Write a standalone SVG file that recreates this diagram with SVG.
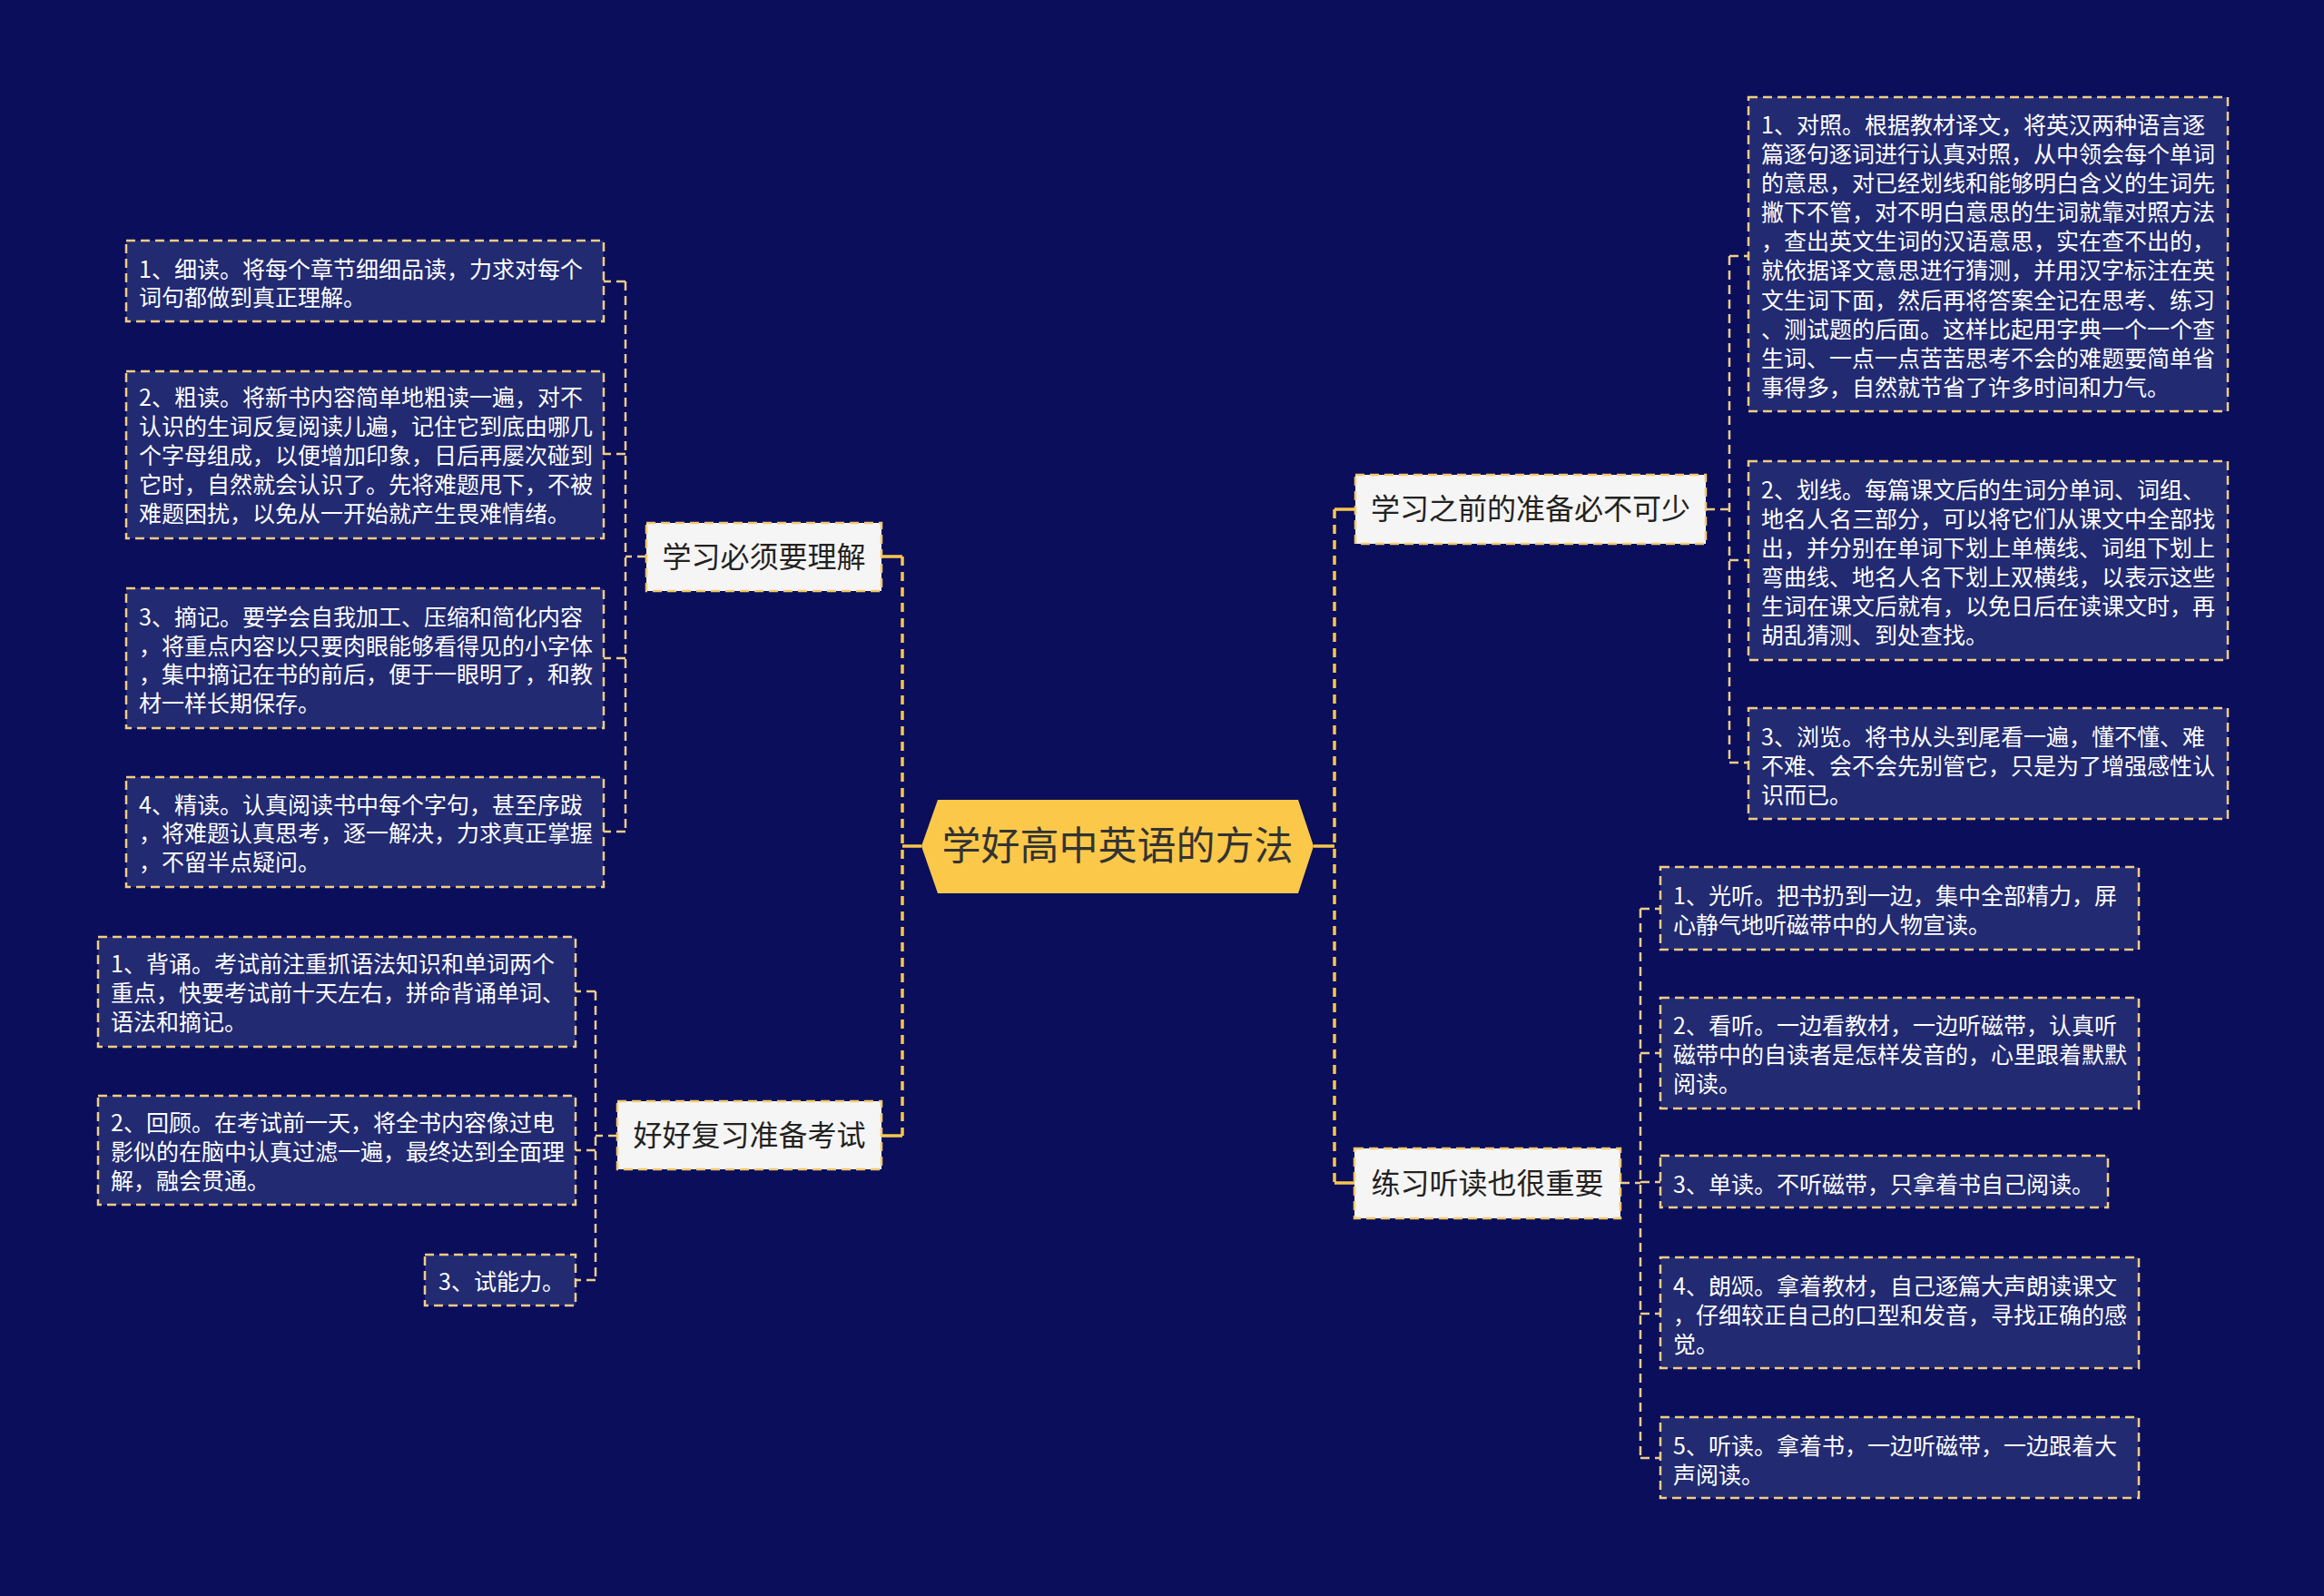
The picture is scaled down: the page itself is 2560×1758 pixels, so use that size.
<svg xmlns="http://www.w3.org/2000/svg" width="2560" height="1758" viewBox="0 0 2560 1758">
<style>
.bg{fill:#0a0e5b}
.leaf rect{fill:#222a72;stroke:#f2cd82;stroke-width:2.5;stroke-dasharray:10 6}
.leaf text{fill:#ffffff;font-family:"Noto Sans CJK SC","Noto Sans",sans-serif;font-size:25px}
.branch rect{fill:#f5f5f5;stroke:#f2c96e;stroke-width:2.5;stroke-dasharray:10 6}
.branch text{fill:#222222;font-family:"Noto Sans CJK SC","Noto Sans",sans-serif;font-size:32px;text-anchor:middle}
.main{fill:none;stroke:#f7c64d;stroke-width:3.5}
.maind{fill:none;stroke:#f7c64d;stroke-width:3.5;stroke-dasharray:10 7}
.sub{fill:none;stroke:#f0cd86;stroke-width:2.5;stroke-dasharray:10 6}
</style>
<rect class="bg" x="0" y="0" width="2560" height="1758"/>
<g id="connectors">
  <path class="main" d="M1015 932 H994"/>
  <path class="maind" d="M994 613 V1251"/>
  <path class="main" d="M994 613 H971 M994 1251 H971"/>
  <path class="main" d="M1447 932 H1470"/>
  <path class="maind" d="M1470 561 V1303"/>
  <path class="main" d="M1470 561 H1493 M1470 1303 H1492"/>
  <path class="sub" d="M712 613 H689 M689 310 V916 M689 310 H665 M689 500 H665 M689 725 H665 M689 916 H665"/>
  <path class="sub" d="M680 1251 H656 M656 1092 V1410 M656 1092 H634 M656 1267 H634 M656 1410 H634"/>
  <path class="sub" d="M1879 561 H1905 M1905 282 V840 M1905 282 H1926 M1905 617 H1926 M1905 840 H1926"/>
  <path class="sub" d="M1785 1303 H1807 M1807 1001 V1606 M1807 1001 H1829 M1807 1160 H1829 M1807 1302 H1829 M1807 1447 H1829 M1807 1606 H1829"/>
</g>
<g id="center">
  <polygon points="1015,932 1033,881 1430,881 1447,932 1430,984 1033,984" fill="#fcc84a"/>
  <text x="1231" y="947" fill="#333333" font-family="Noto Sans CJK SC, Noto Sans, sans-serif" font-size="43" text-anchor="middle">学好高中英语的方法</text>
</g>
<g id="branch1" class="branch">
  <rect x="712" y="576" width="259" height="75"/>
  <text x="841.5" y="625">学习必须要理解</text>
</g>
<g id="branch2" class="branch">
  <rect x="680" y="1213" width="291" height="75"/>
  <text x="825.5" y="1262">好好复习准备考试</text>
</g>
<g id="branch3" class="branch">
  <rect x="1493" y="523" width="386" height="76"/>
  <text x="1686" y="572">学习之前的准备必不可少</text>
</g>
<g id="branch4" class="branch">
  <rect x="1492" y="1265" width="293" height="77"/>
  <text x="1638.5" y="1315">练习听读也很重要</text>
</g>
<g id="leaf-1-1" class="leaf">
  <rect x="139" y="265" width="526" height="89"/>
  <text x="153"><tspan x="153" y="306">1、细读。将每个章节细细品读，力求对每个</tspan><tspan x="153" y="337">词句都做到真正理解。</tspan></text>
</g>
<g id="leaf-1-2" class="leaf">
  <rect x="139" y="409" width="526" height="184"/>
  <text x="153"><tspan x="153" y="447">2、粗读。将新书内容简单地粗读一遍，对不</tspan><tspan x="153" y="479">认识的生词反复阅读儿遍，记住它到底由哪几</tspan><tspan x="153" y="511">个字母组成，以便增加印象，日后再屡次碰到</tspan><tspan x="153" y="543">它时，自然就会认识了。先将难题甩下，不被</tspan><tspan x="153" y="575">难题困扰，以免从一开始就产生畏难情绪。</tspan></text>
</g>
<g id="leaf-1-3" class="leaf">
  <rect x="139" y="648" width="526" height="154"/>
  <text x="153"><tspan x="153" y="689">3、摘记。要学会自我加工、压缩和简化内容</tspan><tspan x="153" y="721">，将重点内容以只要肉眼能够看得见的小字体</tspan><tspan x="153" y="752">，集中摘记在书的前后，便于一眼明了，和教</tspan><tspan x="153" y="784">材一样长期保存。</tspan></text>
</g>
<g id="leaf-1-4" class="leaf">
  <rect x="139" y="856" width="526" height="121"/>
  <text x="153"><tspan x="153" y="896">4、精读。认真阅读书中每个字句，甚至序跋</tspan><tspan x="153" y="927">，将难题认真思考，逐一解决，力求真正掌握</tspan><tspan x="153" y="959">，不留半点疑问。</tspan></text>
</g>
<g id="leaf-2-1" class="leaf">
  <rect x="108" y="1032" width="526" height="121"/>
  <text x="122"><tspan x="122" y="1071">1、背诵。考试前注重抓语法知识和单词两个</tspan><tspan x="122" y="1103">重点，快要考试前十天左右，拼命背诵单词、</tspan><tspan x="122" y="1135">语法和摘记。</tspan></text>
</g>
<g id="leaf-2-2" class="leaf">
  <rect x="108" y="1207" width="526" height="120"/>
  <text x="122"><tspan x="122" y="1246">2、回顾。在考试前一天，将全书内容像过电</tspan><tspan x="122" y="1278">影似的在脑中认真过滤一遍，最终达到全面理</tspan><tspan x="122" y="1310">解，融会贯通。</tspan></text>
</g>
<g id="leaf-2-3" class="leaf">
  <rect x="468" y="1382" width="166" height="56"/>
  <text x="483" y="1421">3、试能力。</text>
</g>
<g id="leaf-3-1" class="leaf">
  <rect x="1926" y="107" width="528" height="346"/>
  <text x="1940"><tspan x="1940" y="147">1、对照。根据教材译文，将英汉两种语言逐</tspan><tspan x="1940" y="179">篇逐句逐词进行认真对照，从中领会每个单词</tspan><tspan x="1940" y="211">的意思，对已经划线和能够明白含义的生词先</tspan><tspan x="1940" y="243">撇下不管，对不明白意思的生词就靠对照方法</tspan><tspan x="1940" y="275">，查出英文生词的汉语意思，实在查不出的，</tspan><tspan x="1940" y="307">就依据译文意思进行猜测，并用汉字标注在英</tspan><tspan x="1940" y="340">文生词下面，然后再将答案全记在思考、练习</tspan><tspan x="1940" y="372">、测试题的后面。这样比起用字典一个一个查</tspan><tspan x="1940" y="404">生词、一点一点苦苦思考不会的难题要简单省</tspan><tspan x="1940" y="436">事得多，自然就节省了许多时间和力气。</tspan></text>
</g>
<g id="leaf-3-2" class="leaf">
  <rect x="1926" y="508" width="528" height="219"/>
  <text x="1940"><tspan x="1940" y="549">2、划线。每篇课文后的生词分单词、词组、</tspan><tspan x="1940" y="581">地名人名三部分，可以将它们从课文中全部找</tspan><tspan x="1940" y="613">出，并分别在单词下划上单横线、词组下划上</tspan><tspan x="1940" y="645">弯曲线、地名人名下划上双横线，以表示这些</tspan><tspan x="1940" y="677">生词在课文后就有，以免日后在读课文时，再</tspan><tspan x="1940" y="709">胡乱猜测、到处查找。</tspan></text>
</g>
<g id="leaf-3-3" class="leaf">
  <rect x="1926" y="780" width="528" height="122"/>
  <text x="1940"><tspan x="1940" y="821">3、浏览。将书从头到尾看一遍，懂不懂、难</tspan><tspan x="1940" y="853">不难、会不会先别管它，只是为了增强感性认</tspan><tspan x="1940" y="885">识而已。</tspan></text>
</g>
<g id="leaf-4-1" class="leaf">
  <rect x="1829" y="955" width="527" height="91"/>
  <text x="1843"><tspan x="1843" y="996">1、光听。把书扔到一边，集中全部精力，屏</tspan><tspan x="1843" y="1028">心静气地听磁带中的人物宣读。</tspan></text>
</g>
<g id="leaf-4-2" class="leaf">
  <rect x="1829" y="1099" width="527" height="122"/>
  <text x="1843"><tspan x="1843" y="1139">2、看听。一边看教材，一边听磁带，认真听</tspan><tspan x="1843" y="1171">磁带中的自读者是怎样发音的，心里跟着默默</tspan><tspan x="1843" y="1203">阅读。</tspan></text>
</g>
<g id="leaf-4-3" class="leaf">
  <rect x="1829" y="1273" width="493" height="57"/>
  <text x="1843" y="1314">3、单读。不听磁带，只拿着书自己阅读。</text>
</g>
<g id="leaf-4-4" class="leaf">
  <rect x="1829" y="1385" width="527" height="122"/>
  <text x="1843"><tspan x="1843" y="1426">4、朗颂。拿着教材，自己逐篇大声朗读课文</tspan><tspan x="1843" y="1458">，仔细较正自己的口型和发音，寻找正确的感</tspan><tspan x="1843" y="1490">觉。</tspan></text>
</g>
<g id="leaf-4-5" class="leaf">
  <rect x="1829" y="1561" width="527" height="89"/>
  <text x="1843"><tspan x="1843" y="1602">5、听读。拿着书，一边听磁带，一边跟着大</tspan><tspan x="1843" y="1634">声阅读。</tspan></text>
</g>
</svg>
